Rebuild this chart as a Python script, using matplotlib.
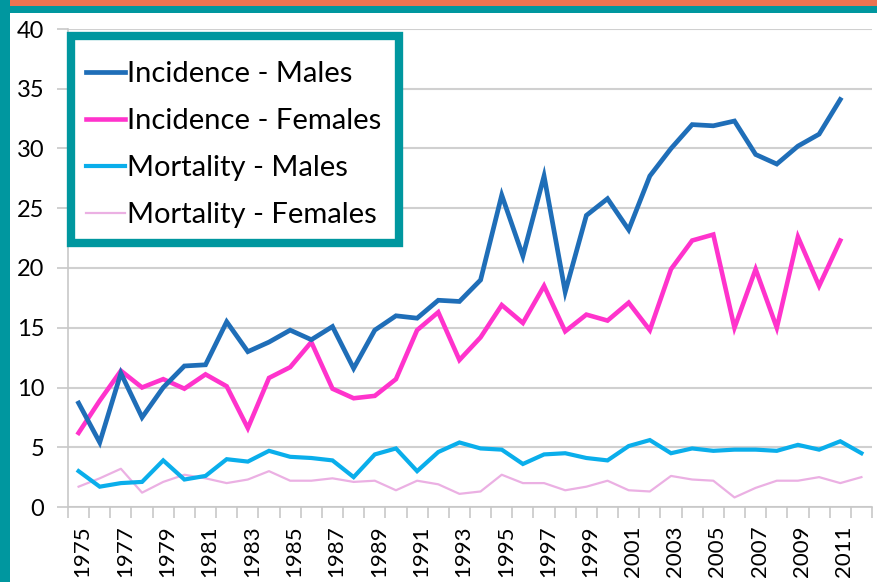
import matplotlib
matplotlib.use("Agg")
import matplotlib.pyplot as plt
from matplotlib.patches import Rectangle
from matplotlib.transforms import ScaledTranslation
import numpy as np

years = list(range(1975, 2013))
inc_males = [8.7, 5.4, 11.2, 7.5, 10.0, 11.8, 11.9, 15.5, 13.0, 13.8, 14.8, 14.0, 15.1, 11.6,
             14.8, 16.0, 15.8, 17.3, 17.2, 19.0, 26.1, 21.0, 27.7, 18.0, 24.4, 25.8, 23.2,
             27.7, 30.0, 32.0, 31.9, 32.3, 29.5, 28.7, 30.2, 31.2, 34.1]
inc_females = [6.2, 8.9, 11.4, 10.0, 10.7, 9.9, 11.1, 10.1, 6.6, 10.8, 11.7, 13.8, 9.9, 9.1,
               9.3, 10.7, 14.8, 16.3, 12.3, 14.2, 16.9, 15.4, 18.5, 14.7, 16.1, 15.6, 17.1,
               14.8, 19.9, 22.3, 22.8, 15.0, 19.9, 15.0, 22.6, 18.5, 22.3]
mort_males = [3.0, 1.7, 2.0, 2.1, 3.9, 2.3, 2.6, 4.0, 3.8, 4.7, 4.2, 4.1, 3.9, 2.5, 4.4, 4.9,
              3.0, 4.6, 5.4, 4.9, 4.8, 3.6, 4.4, 4.5, 4.1, 3.9, 5.1, 5.6, 4.5, 4.9, 4.7, 4.8,
              4.8, 4.7, 5.2, 4.8, 5.5, 4.5]
mort_females = [1.7, 2.4, 3.2, 1.2, 2.1, 2.7, 2.4, 2.0, 2.3, 3.0, 2.2, 2.2, 2.4, 2.1, 2.2, 1.4,
                2.2, 1.9, 1.1, 1.3, 2.7, 2.0, 2.0, 1.4, 1.7, 2.2, 1.4, 1.3, 2.6, 2.3, 2.2, 0.8,
                1.6, 2.2, 2.2, 2.5, 2.0, 2.5]
labels = ["Incidence - Males", "Incidence - Females", "Mortality - Males", "Mortality - Females"]
yticks = [0, 5, 10, 15, 20, 25, 30, 35, 40]

plt.rcParams['font.family'] = ['Lato', 'DejaVu Sans']

W, H = 877, 582
fig = plt.figure(figsize=(W / 100, H / 100), dpi=100)
fig.patch.set_facecolor('white')

teal = '#00979F'
orange = '#EC7351'
fig.patches.append(Rectangle((0, 1 - 13 / H), 1, 13 / H, transform=fig.transFigure,
                             facecolor=teal, edgecolor='none', zorder=0))
fig.patches.append(Rectangle((0, 1 - 6 / H), 1, 6 / H, transform=fig.transFigure,
                             facecolor=orange, edgecolor='none', zorder=0))
fig.patches.append(Rectangle((0, 0), 10 / W, 1, transform=fig.transFigure,
                             facecolor=teal, edgecolor='none', zorder=0))

ax = fig.add_axes([68 / W, (H - 507) / H, (872 - 68) / W, (507 - 29) / H])
x_all = np.arange(len(years))
x_inc = np.arange(len(inc_males))

ax.plot(x_inc, inc_males, color='#1F6EB8', lw=3.4, label=labels[0], solid_joinstyle='miter', zorder=4)
ax.plot(x_inc, inc_females, color='#FF33CC', lw=3.3, label=labels[1], solid_joinstyle='miter', zorder=3)
ax.plot(x_all, mort_males, color='#0AAEEB', lw=3.0, label=labels[2], solid_joinstyle='miter', zorder=3)
ax.plot(x_all, mort_females, color='#EBB0E3', lw=1.6, label=labels[3], zorder=2)

ax.set_xlim(-0.5, len(years) - 0.5)
ax.set_ylim(0, 40)
ax.set_yticks(yticks)
ax.yaxis.grid(True, color='#D0D0D0', lw=1.5)
ax.set_axisbelow(True)

ax.set_xticks(np.arange(-0.5, len(years), 1.0))
ax.set_xticklabels([])
ax.set_xticks(x_all[::2], minor=True)
ax.set_xticklabels([str(y) for y in years[::2]], minor=True, rotation=90, fontsize=16)
ax.tick_params(axis='x', which='major', length=8, color='#C8C8C8', width=1.2)
ax.tick_params(axis='x', which='minor', length=0, pad=13)
ax.tick_params(axis='y', length=8, color='#C8C8C8', width=1.2, labelsize=17, pad=9)
shift = ScaledTranslation(4 / 100, 0, fig.dpi_scale_trans)
for lbl in ax.get_xticklabels(minor=True):
    lbl.set_transform(lbl.get_transform() + shift)

for s in ['top', 'right']:
    ax.spines[s].set_visible(False)
for s in ['left', 'bottom']:
    ax.spines[s].set_color('#C8C8C8')
    ax.spines[s].set_linewidth(1.2)

# legend frame (drawn separately for exact placement)
fig.patches.append(Rectangle((71 / W, 1 - 243 / H), (399 - 71) / W, (243 - 36) / H,
                             transform=fig.transFigure, facecolor='white', edgecolor=teal,
                             lw=6, zorder=5))

leg = ax.legend(loc='upper left', bbox_to_anchor=(86 / W, 1 - 61 / H),
                bbox_transform=fig.transFigure, fontsize=21, frameon=False,
                handlelength=1.35, handletextpad=0.05, labelspacing=0.72,
                borderpad=0, borderaxespad=0)
leg.set_zorder(10)
fig.legends.append(leg)
ax.legend_ = None

fig.savefig('out.png', dpi=100)
